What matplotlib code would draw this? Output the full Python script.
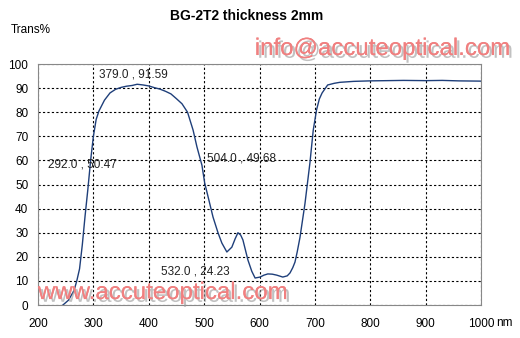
import matplotlib.pyplot as plt
import matplotlib.patheffects as pe

plt.rcParams['font.family'] = ['Liberation Sans', 'DejaVu Sans']

# wavelength (nm) and transmission (%)
wl = [245, 250, 255, 260, 265, 270, 275, 280, 285, 290, 295, 300, 305, 310, 320, 330,
      340, 350, 360, 370, 379, 390, 400, 410, 420, 430, 440, 450, 460, 470, 480, 487,
      496, 501, 507, 516, 525, 532, 541, 550, 556, 561, 566, 570, 579, 586, 592, 601,
      608, 615, 623, 631, 642, 650, 655, 660, 664, 668, 673, 682, 691, 697, 703, 708,
      713, 723, 735, 745, 770, 799, 830, 860, 900, 930, 960, 1000]
trans = [0, 1, 2, 4, 6, 10, 15, 25, 37, 48, 60, 70, 77, 80.5, 85, 88,
         89.5, 90.3, 90.8, 91.1, 91.6, 91.3, 90.9, 90.2, 89.6, 88.7, 87.6, 85.6, 83.5, 80, 72.6, 65.6,
         58, 50.6, 45, 36.5, 30, 25.7, 22, 24, 27.5, 30, 29, 27, 18.7, 14, 11.2, 11.6,
         12.4, 12.9, 12.8, 12.4, 11.6, 12.1, 13.3, 15.5, 17.8, 22, 28, 42, 59, 72.6, 81, 85.5,
         88, 91.3, 92, 92.4, 92.8, 93, 93.1, 93.2, 93.1, 93.2, 93, 92.9]

# point labels (text, x, y in data coords)
labels = ["292.0 , 50.47", "379.0 , 91.59", "504.0 , 49.68", "532.0 , 24.23"]
label_x = [218, 311, 505, 422]
label_y = [56, 93, 58.5, 11.5]

fig = plt.figure(figsize=(5.2, 3.38), dpi=100)
ax = fig.add_axes([0.0731, 0.0976, 0.852, 0.713])

ax.plot(wl, trans, color="#1f3f7a", linewidth=1.0)

for t, x, y in zip(labels, label_x, label_y):
    ax.text(x, y, t, fontsize=8.5, color="#222222", va="bottom", ha="left")

ax.set_xlim(200, 1000)
ax.set_ylim(0, 100)
ax.set_xticks(range(200, 1001, 100))
ax.set_yticks(range(0, 101, 10))
ax.tick_params(axis="x", length=0, labelsize=8.5, pad=9)
ax.tick_params(axis="y", length=0, labelsize=8.5, pad=7)
ax.grid(True, linestyle=(0, (2, 2)), color="black", linewidth=0.8)
for s in ax.spines.values():
    s.set_color("#888888")

fig.text(0.475, 0.953, "BG-2T2 thickness 2mm", ha="center", va="center",
         fontsize=10, fontweight="bold")
fig.text(0.02, 0.91, "Trans%", ha="left", va="center", fontsize=8.5)
fig.text(0.955, 0.045, "nm", ha="left", va="center", fontsize=8.5)

shadow = [pe.withSimplePatchShadow(offset=(2, -2), shadow_rgbFace="#999999", alpha=0.6), pe.Normal()]
fig.text(0.49, 0.855, "info@accuteoptical.com", fontsize=17.3, color="#f08080",
         ha="left", va="center", path_effects=shadow)
fig.text(0.073, 0.133, "www.accuteoptical.com", fontsize=17.3, color="#f08080",
         ha="left", va="center", path_effects=shadow)

fig.savefig("out.png", dpi=100)
